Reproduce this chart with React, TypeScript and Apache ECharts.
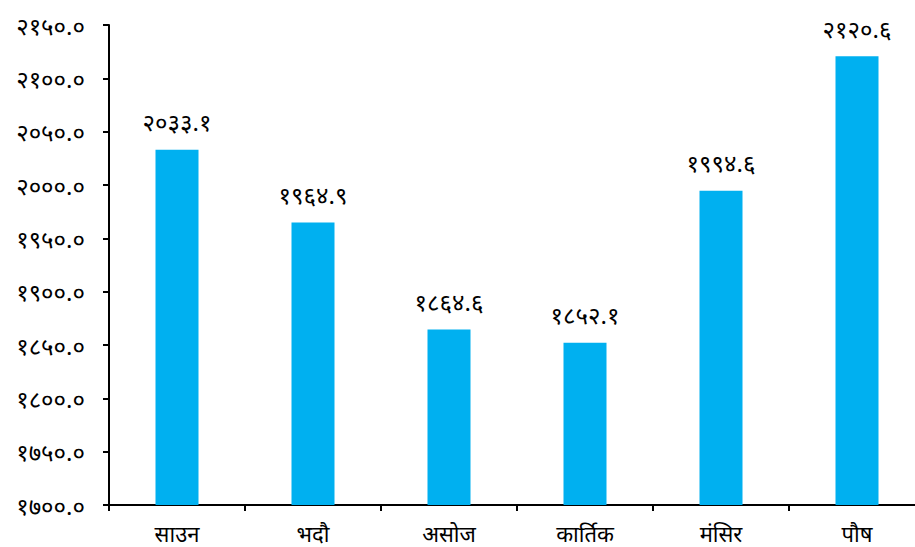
import React, { useEffect, useRef } from "react";
import * as echarts from "echarts";

const categories = ["साउन", "भदौ", "असोज", "कार्तिक", "मंसिर", "पौष"];
const values = [2033.1, 1964.9, 1864.6, 1852.1, 1994.6, 2120.6];
const yMin = 1700;
const yMax = 2150;
const yInterval = 50;

const devDigits = "०१२३४५६७८९";
const toDev = (s: string) => s.replace(/[0-9]/g, (d) => devDigits[Number(d)]);

export default function App() {
  const ref = useRef<HTMLDivElement>(null);
  useEffect(() => {
    if (!ref.current) return;
    const chart = echarts.init(ref.current, undefined, { renderer: "svg" });
    const font = "'Noto Sans', 'DejaVu Sans', sans-serif";
    chart.setOption({
      animation: false,
      grid: {
        left: 109,
        width: 816,
        top: 25,
        bottom: 42,
        containLabel: false,
        outerBoundsMode: "none",
      },
      xAxis: {
        type: "category",
        data: categories,
        boundaryGap: true,
        axisLine: { lineStyle: { color: "#000", width: 2 } },
        axisTick: { show: true, alignWithLabel: false, length: 6, lineStyle: { color: "#000", width: 2 } },
        axisLabel: { color: "#000", fontSize: 22, fontFamily: font, margin: 17 },
      },
      yAxis: {
        type: "value",
        min: yMin,
        max: yMax,
        interval: yInterval,
        splitLine: { show: false },
        axisLine: { show: true, lineStyle: { color: "#000", width: 2 } },
        axisTick: { show: true, length: 6, lineStyle: { color: "#000", width: 2 } },
        axisLabel: {
          color: "#000",
          fontSize: 24,
          fontFamily: font,
          margin: 24,
          formatter: (v: number) => toDev(v.toFixed(1)),
        },
      },
      series: [
        {
          type: "bar",
          data: values,
          barWidth: 43,
          itemStyle: { color: "#00B0F0" },
          label: {
            show: true,
            position: "top",
            distance: 16,
            color: "#000",
            fontSize: 24,
            fontFamily: font,
            formatter: (p: any) => toDev(Number(p.value).toFixed(1)),
          },
        },
      ],
    });
    return () => chart.dispose();
  }, []);
  return <div ref={ref} style={{ width: 915, height: 547, position: "absolute", left: 0, top: 0, overflow: "hidden" }} />;
}
